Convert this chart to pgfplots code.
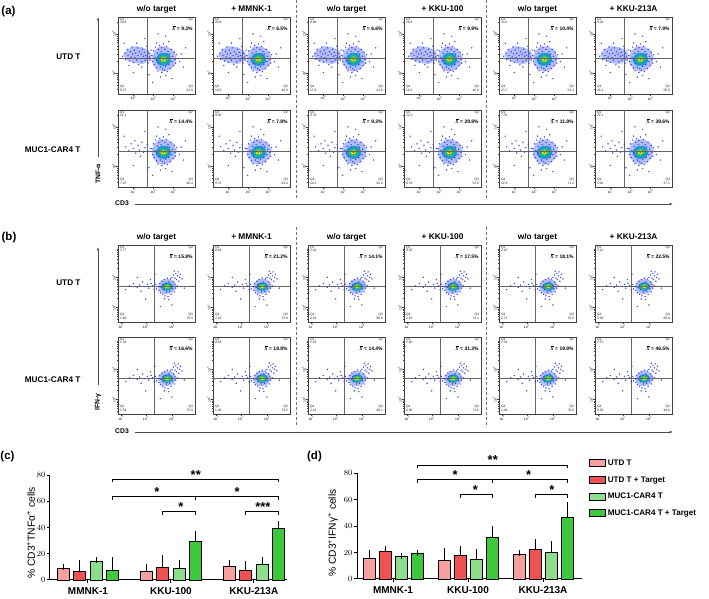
\documentclass[border=0pt]{standalone}
\usepackage{fontspec}
\setmainfont{Liberation Sans}
\newfontfamily\lserif{Liberation Serif}
\usepackage{pgfplots}
\pgfplotsset{compat=1.18}
\usepackage{pgfplotstable}
\usetikzlibrary{arrows.meta}
\newcommand\fs[1]{\fontsize{#1}{#1}\selectfont}
\newcommand\xbar{\rlap{\hspace{0.9pt}\rule[3.9pt]{2.8pt}{0.3pt}}{\lserif\itshape X}}

\definecolor{cA}{RGB}{246,160,160}
\definecolor{cB}{RGB}{238,82,82}
\definecolor{cC}{RGB}{140,222,140}
\definecolor{cD}{RGB}{62,200,62}
\definecolor{dotc}{RGB}{55,70,240}
\definecolor{lobec}{RGB}{178,188,250}
\definecolor{ringc}{RGB}{30,150,215}
\definecolor{grc}{RGB}{50,195,80}
\definecolor{yec}{RGB}{225,225,40}
\definecolor{rdc}{RGB}{230,60,30}

% ---------- flow cytometry clouds (fractions of the plot box) ----------
\pgfplotstableread[row sep=\\]{x y\\0.06 0.49\\0.09 0.53\\0.10 0.45\\0.12 0.58\\0.13 0.50\\0.15 0.43\\0.16 0.55\\0.17 0.48\\0.18 0.61\\0.19 0.52\\0.20 0.41\\0.21 0.57\\0.22 0.47\\0.23 0.53\\0.24 0.44\\0.25 0.60\\0.26 0.50\\0.27 0.38\\0.28 0.55\\0.29 0.46\\0.30 0.52\\0.31 0.42\\0.32 0.58\\0.33 0.49\\0.34 0.54\\0.35 0.44\\0.36 0.50\\0.37 0.62\\0.38 0.47\\0.39 0.40\\0.40 0.53\\0.41 0.48\\0.42 0.44\\0.43 0.57\\0.24 0.66\\0.14 0.37\\0.31 0.35\\}\aLeftStrong
\pgfplotstableread[row sep=\\]{x y\\0.10 0.52\\0.14 0.47\\0.17 0.56\\0.20 0.50\\0.23 0.44\\0.26 0.54\\0.28 0.48\\0.31 0.58\\0.33 0.45\\0.35 0.51\\0.38 0.55\\0.40 0.46\\0.42 0.50\\0.29 0.40\\0.22 0.60\\}\aLeftWeak
\pgfplotstableread[row sep=\\]{x y\\0.44 0.50\\0.45 0.42\\0.46 0.56\\0.47 0.38\\0.48 0.47\\0.49 0.61\\0.50 0.34\\0.50 0.44\\0.51 0.53\\0.52 0.30\\0.53 0.58\\0.53 0.40\\0.54 0.63\\0.55 0.35\\0.56 0.55\\0.57 0.28\\0.57 0.60\\0.58 0.33\\0.59 0.65\\0.60 0.31\\0.61 0.58\\0.62 0.36\\0.63 0.62\\0.64 0.29\\0.65 0.55\\0.66 0.38\\0.67 0.52\\0.68 0.33\\0.69 0.58\\0.70 0.42\\0.71 0.49\\0.72 0.37\\0.73 0.54\\0.74 0.45\\0.75 0.40\\0.76 0.51\\0.78 0.46\\0.80 0.42\\0.62 0.24\\0.55 0.22\\0.66 0.68\\0.50 0.66\\0.82 0.52\\}\aMain
\pgfplotstableread[row sep=\\]{x y\\0.35 0.72\\0.52 0.78\\0.70 0.20\\0.85 0.35\\0.20 0.28\\0.45 0.15\\0.62 0.75\\0.88 0.60\\0.08 0.66\\0.40 0.25\\}\aOut
\pgfplotstableread[row sep=\\]{x y\\0.07 0.50\\0.11 0.57\\0.20 0.62\\0.31 0.61\\0.40 0.57\\0.44 0.50\\0.41 0.43\\0.32 0.39\\0.21 0.40\\0.12 0.44\\}\aLeftFill
\pgfplotstableread[row sep=\\]{x y\\0.44 0.47\\0.47 0.56\\0.54 0.62\\0.63 0.62\\0.72 0.57\\0.76 0.48\\0.74 0.38\\0.67 0.31\\0.58 0.29\\0.50 0.32\\0.45 0.39\\}\aMainFill
\pgfplotstableread[row sep=\\]{x y\\0.69 0.45\\0.675 0.50\\0.64 0.53\\0.59 0.535\\0.54 0.525\\0.505 0.49\\0.49 0.45\\0.50 0.41\\0.535 0.375\\0.59 0.365\\0.645 0.375\\0.68 0.41\\}\aRing
\pgfplotstableread[row sep=\\]{x y\\0.65 0.45\\0.64 0.48\\0.61 0.50\\0.58 0.50\\0.55 0.48\\0.535 0.45\\0.545 0.42\\0.57 0.40\\0.60 0.40\\0.635 0.42\\}\aGreen
\pgfplotstableread[row sep=\\]{x y\\0.62 0.45\\0.61 0.47\\0.59 0.475\\0.565 0.465\\0.56 0.445\\0.57 0.43\\0.59 0.425\\0.61 0.43\\}\aYellow
\pgfplotstableread[row sep=\\]{x y\\0.60 0.45\\0.59 0.46\\0.578 0.452\\0.585 0.44\\0.598 0.442\\}\aRed

\pgfplotstableread[row sep=\\]{x y\\0.52 0.46\\0.53 0.41\\0.54 0.50\\0.55 0.38\\0.56 0.45\\0.57 0.53\\0.58 0.36\\0.58 0.48\\0.59 0.42\\0.60 0.55\\0.61 0.34\\0.62 0.50\\0.63 0.39\\0.64 0.57\\0.65 0.33\\0.66 0.52\\0.67 0.40\\0.68 0.56\\0.69 0.36\\0.70 0.47\\0.71 0.43\\0.72 0.52\\0.73 0.39\\0.74 0.49\\0.75 0.44\\0.77 0.47\\0.60 0.30\\0.66 0.29\\0.50 0.43\\0.49 0.49\\0.70 0.58\\0.72 0.61\\0.74 0.57\\0.75 0.63\\0.77 0.60\\0.78 0.65\\0.80 0.58\\0.81 0.62\\0.76 0.55\\0.83 0.56\\0.73 0.66\\0.79 0.53\\0.15 0.47\\0.20 0.50\\0.25 0.45\\0.28 0.48\\0.32 0.52\\0.35 0.46\\0.38 0.49\\0.40 0.44\\0.43 0.50\\0.45 0.47\\0.47 0.42\\0.30 0.40\\0.42 0.55\\0.36 0.30\\0.55 0.20\\0.70 0.22\\0.86 0.44\\0.48 0.62\\0.25 0.58\\0.10 0.42\\}\bDots
\pgfplotstableread[row sep=\\]{x y\\0.76 0.46\\0.74 0.52\\0.69 0.555\\0.63 0.56\\0.57 0.54\\0.53 0.50\\0.52 0.45\\0.54 0.40\\0.58 0.37\\0.64 0.36\\0.70 0.38\\0.74 0.42\\}\bFill
\pgfplotstableread[row sep=\\]{x y\\0.715 0.46\\0.70 0.495\\0.665 0.515\\0.625 0.515\\0.585 0.50\\0.565 0.465\\0.57 0.43\\0.60 0.41\\0.64 0.405\\0.68 0.415\\0.705 0.435\\}\bRing
\pgfplotstableread[row sep=\\]{x y\\0.69 0.46\\0.675 0.485\\0.645 0.497\\0.61 0.49\\0.59 0.465\\0.595 0.44\\0.62 0.425\\0.655 0.425\\0.68 0.44\\}\bGreen
\pgfplotstableread[row sep=\\]{x y\\0.665 0.46\\0.65 0.475\\0.63 0.477\\0.613 0.465\\0.618 0.448\\0.64 0.442\\0.658 0.447\\}\bYellow
\pgfplotstableread[row sep=\\]{x y\\0.648 0.461\\0.638 0.468\\0.627 0.462\\0.633 0.452\\0.644 0.453\\}\bRed

\tikzset{
  qtxt/.style={font=\fs{3.3}, inner sep=0.3pt, align=left, text=black!85},
  xb/.style={font=\fs{5}\bfseries, inner sep=0.2pt},
  star/.style={font=\fs{13}\bfseries, anchor=base, inner sep=0pt},
}
\pgfplotsset{
  flow/.style={scale only axis, width=77pt, height=77pt,
    xmin=0, xmax=1, ymin=0, ymax=1, clip=false,
    axis line style={black!75, line width=0.4pt},
    tick align=outside, tick pos=left,
    major tick length=1.6pt, minor tick length=0.9pt,
    tick style={black!75, line width=0.3pt},
    tick label style={font=\fs{3.3}, inner sep=0.6pt},
    y tick label style={rotate=90, anchor=south}},
  flowA/.style={xtick={0.2,0.46,0.72},
    xticklabels={10\textsuperscript{1},10\textsuperscript{2},10\textsuperscript{3}},
    minor xtick={0.278,0.324,0.357,0.382,0.402,0.42,0.435,0.448,0.538,0.584,0.617,0.642,0.662,0.68,0.695,0.708,0.798,0.844,0.877,0.902,0.922,0.94,0.955,0.968},
    ytick={0.27,0.78}, yticklabels={10\textsuperscript{2},10\textsuperscript{3}},
    minor ytick={0.067,0.116,0.157,0.191,0.221,0.247,0.424,0.513,0.577,0.626,0.667,0.701,0.731,0.757,0.934}},
  flowB/.style={xtick={0.04,0.36,0.70},
    xticklabels={10\textsuperscript{1},10\textsuperscript{2},10\textsuperscript{3}},
    minor xtick={0.136,0.193,0.233,0.264,0.289,0.31,0.329,0.345,0.462,0.522,0.565,0.598,0.625,0.647,0.667,0.684,0.802,0.862,0.905,0.938,0.965,0.987},
    ytick={0.19,0.58}, yticklabels={10\textsuperscript{2},10\textsuperscript{3}},
    minor ytick={0.035,0.073,0.103,0.13,0.152,0.172,0.307,0.376,0.425,0.463,0.493,0.52,0.542,0.562,0.697,0.766,0.815,0.853,0.883,0.91,0.932,0.952}},
  lobe/.style={draw=none, fill=lobec, mark=none},
  dots/.style={only marks, color=dotc, mark=*, mark size=0.45pt, mark options={draw=none, fill=dotc}},
  ringp/.style={draw=none, fill=ringc, mark=none},
  grp/.style={draw=none, fill=grc, mark=none},
  yep/.style={draw=none, fill=yec, mark=none},
  rdp/.style={draw=none, fill=rdc, mark=none},
  qline/.style={black!60, line width=0.45pt, mark=none},
  bb/.style={ybar, bar width=12pt, bar shift=0pt, draw=black, line width=0.9pt,
    error bars/y dir=plus, error bars/y explicit,
    error bars/error bar style={line width=0.9pt, black},
    error bars/error mark options={line width=0.9pt, black, mark size=3pt},
    legend image code/.code={\draw[##1, line width=0.9pt] (0pt,-3.2pt) rectangle (16pt,3.8pt);}},
  br/.style={black, line width=0.9pt, mark=none, forget plot},
  bars/.style={scale only axis, clip=false,
    axis x line*=bottom, axis y line*=left,
    axis line style={line width=1pt, black},
    ymin=0, ymax=80, ytick={0,20,40,60,80},
    xtick={1,2,3}, xticklabels={MMNK-1,KKU-100,KKU-213A},
    tick align=outside, major tick length=3pt,
    tick style={line width=1pt, black},
    x tick label style={font=\fs{10}\bfseries, inner sep=1.5pt, yshift=-3pt},
    y tick label style={font=\fs{8}\bfseries, inner sep=1.5pt}},
}

\newcommand{\cloudAU}{%
  \addplot[lobe] table {\aLeftFill};
  \addplot[lobe] table {\aMainFill};
  \addplot[dots] table {\aLeftStrong};
  \addplot[dots] table {\aMain};
  \addplot[dots] table {\aOut};
  \addplot[ringp] table {\aRing};
  \addplot[grp] table {\aGreen};
  \addplot[yep] table {\aYellow};
  \addplot[rdp] table {\aRed};
}
\newcommand{\cloudAM}{%
  \addplot[lobe] table {\aMainFill};
  \addplot[dots] table {\aLeftWeak};
  \addplot[dots] table {\aMain};
  \addplot[dots] table {\aOut};
  \addplot[ringp] table {\aRing};
  \addplot[grp] table {\aGreen};
  \addplot[yep] table {\aYellow};
  \addplot[rdp] table {\aRed};
}
\newcommand{\cloudB}{%
  \addplot[lobe] table {\bFill};
  \addplot[dots] table {\bDots};
  \addplot[ringp] table {\bRing};
  \addplot[grp] table {\bGreen};
  \addplot[yep] table {\bYellow};
  \addplot[rdp] table {\bRed};
}

% #1 x, #2 y, #3 Q1, #4 mean, #5 Q4, #6 Q3, #7 style, #8 cloud, #9 vertical gate
\newcommand{\flowpanel}[9]{%
\begin{axis}[flow,#7,at={(#1pt,#2pt)},anchor=south west]
#8
\addplot[qline] coordinates {(#9,0) (#9,1)};
\addplot[qline] coordinates {(0,0.47) (1,0.47)};
\node[qtxt,anchor=north west] at (rel axis cs:0.02,0.99) {Q1\\#3};
\node[qtxt,anchor=north east] at (rel axis cs:0.98,0.99) {Q2};
\node[xb,anchor=east] at (rel axis cs:0.975,0.855) {\xbar{} = #4\%};
\node[qtxt,anchor=south west] at (rel axis cs:0.02,0.03) {Q4\\#5};
\node[qtxt,anchor=south east,align=right] at (rel axis cs:0.98,0.03) {Q3\\#6};
\end{axis}}

\begin{document}
\begin{tikzpicture}[x=1pt,y=1pt]
\path[use as bounding box] (0,0) rectangle (709,599);

% ===== panel labels =====
\node[font=\fs{11.5}\bfseries] at (8.5,587) {(a)};
\node[font=\fs{11.5}\bfseries] at (9,361) {(b)};
\node[font=\fs{11.5}\bfseries] at (7.5,142) {(c)};
\node[font=\fs{11.5}\bfseries] at (314.5,142) {(d)};

% ===== column titles =====
\foreach \yy in {590,362}{
  \node[font=\fs{8.3}\bfseries] at (156.5,\yy) {w/o target};
  \node[font=\fs{8.3}\bfseries] at (251.5,\yy) {+ MMNK-1};
  \node[font=\fs{8.3}\bfseries] at (346.5,\yy) {w/o target};
  \node[font=\fs{8.3}\bfseries] at (442.5,\yy) {+ KKU-100};
  \node[font=\fs{8.3}\bfseries] at (537.5,\yy) {w/o target};
  \node[font=\fs{8.3}\bfseries] at (633.5,\yy) {+ KKU-213A};
}
% ===== row labels =====
\node[anchor=east,font=\fs{8.2}\bfseries] at (84,542) {UTD T};
\node[anchor=east,font=\fs{8.2}\bfseries] at (84,449) {MUC1-CAR4 T};
\node[anchor=east,font=\fs{8.2}\bfseries] at (84,316) {UTD T};
\node[anchor=east,font=\fs{8.2}\bfseries] at (84,219) {MUC1-CAR4 T};

% ===== separators and axis arrows =====
\foreach \xx in {296,486}{
  \draw[black!55, dash pattern=on 3pt off 2pt, line width=0.6pt] (\xx,599) -- (\xx,399);
  \draw[black!55, dash pattern=on 3pt off 2pt, line width=0.6pt] (\xx,372) -- (\xx,174);
}
\draw[black!70, line width=0.5pt, -{Latex[length=3.5pt,width=2.4pt]}] (98,442) -- (98,582);
\node[rotate=90, font=\fs{6.8}\bfseries] at (98,425) {TNF-α};
\draw[black!70, line width=0.5pt, -{Latex[length=3.5pt,width=2.4pt]}] (135,395) -- (673,395);
\node[font=\fs{6.8}\bfseries] at (122,396) {CD3};
\draw[black!70, line width=0.5pt, -{Latex[length=3.5pt,width=2.4pt]}] (98,214) -- (98,352);
\node[rotate=90, font=\fs{6.8}\bfseries] at (98,197) {IFN-γ};
\draw[black!70, line width=0.5pt, -{Latex[length=3.5pt,width=2.4pt]}] (135,167) -- (673,167);
\node[font=\fs{6.8}\bfseries] at (122,168) {CD3};

% ===== (a) TNF-alpha =====
\flowpanel{118}{505}{10.8}{9.3}{9.27}{61.9}{flowA}{\cloudAU}{0.38}
\flowpanel{213}{505}{16.6}{6.5}{19.8}{46.8}{flowA}{\cloudAU}{0.38}
\flowpanel{308}{505}{6.88}{6.6}{17.9}{61.6}{flowA}{\cloudAU}{0.38}
\flowpanel{404}{505}{16.8}{9.9}{19.3}{46.0}{flowA}{\cloudAU}{0.38}
\flowpanel{499}{505}{14.6}{10.4}{23.7}{54.4}{flowA}{\cloudAU}{0.38}
\flowpanel{595}{505}{9.49}{7.9}{26.1}{56.9}{flowA}{\cloudAU}{0.38}
\flowpanel{118}{412}{12.1}{14.4}{7.07}{66.4}{flowA}{\cloudAM}{0.38}
\flowpanel{213}{412}{9.00}{7.8}{9.73}{63.4}{flowA}{\cloudAM}{0.38}
\flowpanel{308}{412}{3.76}{9.2}{14.3}{62.8}{flowA}{\cloudAM}{0.38}
\flowpanel{404}{412}{12.3}{29.8}{8.76}{52.8}{flowA}{\cloudAM}{0.38}
\flowpanel{499}{412}{7.76}{11.9}{12.9}{71.2}{flowA}{\cloudAM}{0.38}
\flowpanel{595}{412}{22.1}{39.6}{3.01}{37.1}{flowA}{\cloudAM}{0.38}

% ===== (b) IFN-gamma =====
\flowpanel{118}{277}{1.77}{15.8}{1.66}{79.9}{flowB}{\cloudB}{0.47}
\flowpanel{213}{277}{0.64}{21.2}{2.22}{75.6}{flowB}{\cloudB}{0.47}
\flowpanel{308}{277}{1.01}{14.1}{4.33}{80.6}{flowB}{\cloudB}{0.47}
\flowpanel{404}{277}{3.05}{17.5}{3.16}{74.1}{flowB}{\cloudB}{0.47}
\flowpanel{499}{277}{2.16}{18.1}{2.72}{76.0}{flowB}{\cloudB}{0.47}
\flowpanel{595}{277}{3.12}{22.5}{3.00}{68.8}{flowB}{\cloudB}{0.47}
\flowpanel{118}{185}{1.34}{16.6}{1.54}{79.9}{flowB}{\cloudB}{0.47}
\flowpanel{213}{185}{0.64}{18.8}{1.36}{79.5}{flowB}{\cloudB}{0.47}
\flowpanel{308}{185}{1.02}{14.4}{2.16}{80.1}{flowB}{\cloudB}{0.47}
\flowpanel{404}{185}{1.00}{31.3}{0.86}{74.6}{flowB}{\cloudB}{0.47}
\flowpanel{499}{185}{1.34}{19.9}{1.04}{79.9}{flowB}{\cloudB}{0.47}
\flowpanel{595}{185}{1.57}{46.5}{0.93}{49.8}{flowB}{\cloudB}{0.47}

% ===== (c) bar chart =====
\begin{axis}[bars, at={(50pt,19pt)}, anchor=south west, width=237pt, height=105pt, xmin=0.542, xmax=3.40]
\addplot[bb, fill=cA] coordinates {(0.7,8.9) +- (0,1.2) (1.7,6.3) +- (0,3.8) (2.7,10.1) +- (0,3.1)};
\addplot[bb, fill=cB] coordinates {(0.9,6.3) +- (0,6.9) (1.9,9.6) +- (0,7.4) (2.9,7.6) +- (0,4.8)};
\addplot[bb, fill=cC] coordinates {(1.1,14.2) +- (0,0.8) (2.1,8.9) +- (0,3.8) (3.1,12.2) +- (0,2.8)};
\addplot[bb, fill=cD] coordinates {(1.3,7.6) +- (0,7.6) (2.3,29.6) +- (0,5.1) (3.3,39.5) +- (0,3.0)};
\addplot[br] coordinates {(1.3,74.4) (1.3,76.7) (3.3,76.7) (3.3,74.4)};
\addplot[br] coordinates {(1.3,61.0) (1.3,63.3) (3.3,63.3) (3.3,61.0)};
\addplot[br] coordinates {(2.3,63.3) (2.3,61.0)};
\addplot[br] coordinates {(1.9,49.6) (1.9,51.9) (2.3,51.9) (2.3,49.6)};
\addplot[br] coordinates {(2.9,49.6) (2.9,51.9) (3.3,51.9) (3.3,49.6)};
\node[star] at (axis cs:2.3,76.9) {**};
\node[star] at (axis cs:1.83,63.5) {*};
\node[star] at (axis cs:2.80,63.5) {*};
\node[star] at (axis cs:2.12,52.1) {*};
\node[star] at (axis cs:3.11,52.1) {***};
\end{axis}
\node[rotate=90, font=\fs{10.3}] at (31,66) {\% CD3\textsuperscript{+}TNFα\textsuperscript{+} cells};

% ===== (d) bar chart =====
\begin{axis}[bars, at={(357pt,20pt)}, anchor=south west, width=225pt, height=106pt, xmin=0.52, xmax=3.52,
  legend style={at={(1.03,1.145)}, anchor=north west, draw=none, fill=none,
    font=\fs{8.1}\bfseries, row sep=5.6pt, inner sep=0pt,
    /tikz/every even column/.append style={column sep=3pt}},
  legend cell align=left]
\addplot[bb, fill=cA] coordinates {(0.68,15.75) +- (0,4.25) (1.68,14.0) +- (0,7.5) (2.68,18.25) +- (0,1.25)};
\addlegendentry{UTD T}
\addplot[bb, fill=cB] coordinates {(0.893,21.0) +- (0,1.7) (1.893,17.75) +- (0,4.75) (2.893,22.5) +- (0,5.25)};
\addlegendentry{UTD T + Target}
\addplot[bb, fill=cC] coordinates {(1.107,17.0) +- (0,0.5) (2.107,14.5) +- (0,6.0) (3.107,20.25) +- (0,6.0)};
\addlegendentry{MUC1-CAR4 T}
\addplot[bb, fill=cD] coordinates {(1.32,19.0) +- (0,1.0) (2.32,31.5) +- (0,6.0) (3.32,46.5) +- (0,9.0)};
\addlegendentry{MUC1-CAR4 T + Target}
\addplot[br] coordinates {(1.32,83.7) (1.32,86) (3.32,86) (3.32,83.7)};
\addplot[br] coordinates {(1.32,72.7) (1.32,75) (3.32,75) (3.32,72.7)};
\addplot[br] coordinates {(2.32,75) (2.32,72.7)};
\addplot[br] coordinates {(1.893,61.2) (1.893,63.5) (2.32,63.5) (2.32,61.2)};
\addplot[br] coordinates {(2.893,61.2) (2.893,63.5) (3.32,63.5) (3.32,61.2)};
\node[star] at (axis cs:2.33,86.2) {**};
\node[star] at (axis cs:1.83,75.2) {*};
\node[star] at (axis cs:2.81,75.2) {*};
\node[star] at (axis cs:2.10,63.7) {*};
\node[star] at (axis cs:3.12,63.7) {*};
\end{axis}
\node[rotate=90, font=\fs{10.3}] at (333,66) {\% CD3\textsuperscript{+}IFNγ\textsuperscript{+} cells};
\end{tikzpicture}
\end{document}
